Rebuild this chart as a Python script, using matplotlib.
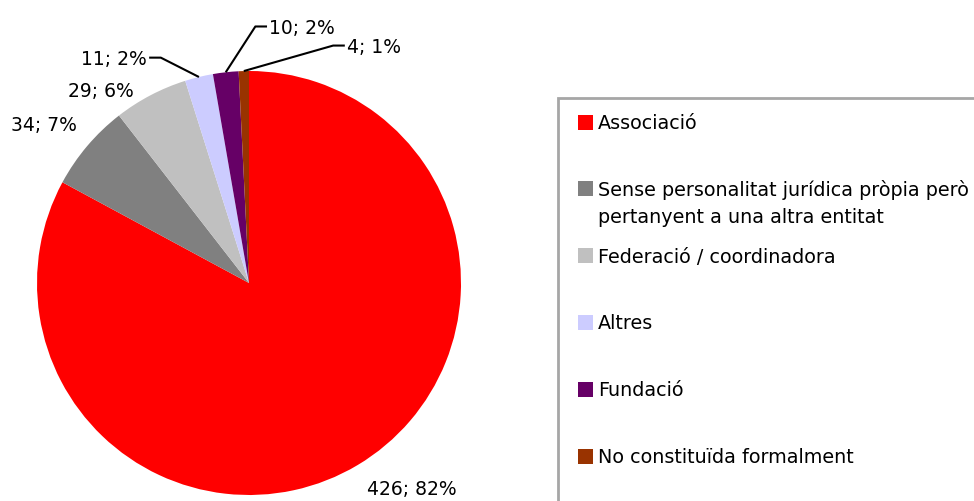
import numpy as np
import matplotlib.pyplot as plt
from matplotlib.patches import Rectangle

# dades del gràfic
categories = ['Associació',
              'Sense personalitat jurídica pròpia però\npertanyent a una altra entitat',
              'Federació / coordinadora',
              'Altres',
              'Fundació',
              'No constituïda formalment']
values = [426, 34, 29, 11, 10, 4]
percents = [82, 7, 6, 2, 2, 1]
colors = ['#FF0000', '#808080', '#C0C0C0', '#CCCCFF', '#660066', '#993300']

# posició de les etiquetes (coordenades del pastís, radi = 1) i costat de la línia guia
label_pos = [(0.77, -1.0), (-0.967, 0.717), (-0.698, 0.877),
             (-0.481, 1.028), (0.095, 1.175), (0.462, 1.085)]
label_ha = ['center', 'center', 'center', 'right', 'left', 'left']
leader = [False, False, False, True, True, True]

W, H = 974, 501
fig = plt.figure(figsize=(W / 100, H / 100), dpi=100)
plt.rcParams['font.family'] = ['DejaVu Sans']

cx, cy, r = 249, 283, 212
ax = fig.add_axes([(cx - r) / W, (H - cy - r) / H, 2 * r / W, 2 * r / H])
wedges, _ = ax.pie(values, colors=colors, startangle=90, counterclock=False,
                   radius=1, wedgeprops=dict(linewidth=0))
ax.set_xlim(-1, 1)
ax.set_ylim(-1, 1)
ax.set_aspect('equal')
ax.axis('off')

for i, w in enumerate(wedges):
    x, y = label_pos[i]
    ax.text(x, y, '%d; %d%%' % (values[i], percents[i]), ha=label_ha[i], va='baseline',
            fontsize=13.5, color='black', clip_on=False)
    if leader[i]:
        ang = np.deg2rad((w.theta1 + w.theta2) / 2)
        ax0, ay0 = np.cos(ang), np.sin(ang)
        ly = y + 0.035
        sgn = -1 if label_ha[i] == 'left' else 1
        x_end = x + sgn * 0.01
        x_elb = x + sgn * 0.065
        ax.plot([ax0, x_elb, x_end], [ay0, ly, ly], color='black', lw=1.5,
                clip_on=False, solid_capstyle='butt')

# llegenda
fig.patches.append(Rectangle((558 / W, -0.2), 0.6, 1 - 98 / H + 0.2, transform=fig.transFigure,
                             facecolor='white', edgecolor='#A6A6A6', lw=2, zorder=0))
for i, lab in enumerate(categories):
    yc = 122 + 66.8 * i
    fig.patches.append(Rectangle((578 / W, 1 - (yc + 7.5) / H), 15 / W, 15 / H,
                                 transform=fig.transFigure, facecolor=colors[i],
                                 edgecolor='none', zorder=2))
    for k, line in enumerate(lab.split('\n')):
        fig.text(598 / W, 1 - (yc + 7 + 27 * k) / H, line, ha='left', va='baseline',
                 fontsize=13.8, zorder=3)

fig.savefig('out.png', dpi=100)
